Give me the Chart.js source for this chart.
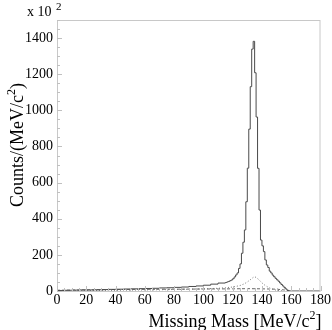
<!DOCTYPE html>
<html><head><meta charset="utf-8">
<script src="https://cdn.jsdelivr.net/npm/chart.js@4/dist/chart.umd.min.js"></script>
<style>html,body{margin:0;padding:0;background:#fff}#wrap{width:332px;height:330px}</style>
</head><body><div id="wrap"><canvas id="c" width="332" height="330"></canvas></div>
<script>
// histogram bin lower edges (MeV/c^2) and counts (x100)
const totalEdges = [0,5,10,15,20,25,30,35,40,45,50,55,60,65,70,75,80,85,90,95,100,105,110,
  115,116,117,118,119,120,121,122,123,124,125,126,127,128,129,130,131,132,133,134,135,136,137,138,139,
  140,141,142,143,144,145,146,147,148,149,150,151,152,153,154,155,156,157,158,159,180];
const totalCounts = [3,3,4,5,6,6,7,8,9,10,11,12,13,14,15,17,18,20,22,25,28,32,38,
  44,47,50,53,57,61,68,78,89,100,125,150,209,270,338,494,680,896,1131,1339,1382,1208,963,679,448,
  282,250,218,172,144,130,110,100,88,79,70,62,54,45,36,28,20,12,5,0,0];
// dotted component
const peakMass = [0,10,20,30,40,50,60,70,80,90,100,110,115,120,125,128,130,132,134,135,136,138,140,142,144,146,148,150,152,155];
const peakCounts = [0,1,2,3,4,5,6,7,8,10,12,15,18,22,30,40,50,62,75,79,75,62,45,32,22,14,8,4,2,0];
// dashed background component
const bgMass = [0,20,40,60,80,100,120,130,140,150,155,158,160];
const bgCounts = [4,6,8,9,10,11,12,13,12,10,6,2,0];
const xTicks = [0,20,40,60,80,100,120,140,160,180];
const yTicks = [0,200,400,600,800,1000,1200,1400];

const toXY = (xs, ys) => xs.map((x,i)=>({x:x, y:ys[i]}));
const FONT = "'Liberation Serif','DejaVu Serif',serif";

const decor = {
  id:'decor',
  afterDraw(chart){
    const {ctx, chartArea:a, scales:{x,y}} = chart;
    ctx.save();
    // frame
    ctx.strokeStyle = '#c8c8c8'; ctx.lineWidth = 1;
    ctx.strokeRect(a.left+0.5, a.top+0.5, a.right-a.left-1, a.bottom-a.top);
    // inward ticks
    ctx.strokeStyle = '#c0c0c0';
    ctx.beginPath();
    for (let v=0; v<=1500; v+=50){
      const py = Math.round(y.getPixelForValue(v))+0.5;
      const len = (v%200===0)?5:3;
      ctx.moveTo(a.left, py); ctx.lineTo(a.left+len, py);
    }
    for (let v=0; v<=180; v+=5){
      const px = Math.round(x.getPixelForValue(v))+0.5;
      const len = (v%20===0)?5:3;
      ctx.moveTo(px, a.bottom); ctx.lineTo(px, a.bottom-len);
    }
    ctx.stroke();
    ctx.fillStyle = '#000';
    // exponent
    ctx.font = '14px '+FONT; ctx.textBaseline='alphabetic'; ctx.textAlign='left';
    ctx.fillText('x 10', 27, 16);
    ctx.font = '11px '+FONT; ctx.fillText('2', 56, 10);
    // x title
    ctx.font = '18px '+FONT; ctx.textAlign='left';
    const p1 = 'Missing Mass [MeV/c', p3 = ']';
    const w1 = ctx.measureText(p1).width;
    ctx.font = '12px '+FONT; const w2 = ctx.measureText('2').width;
    ctx.font = '18px '+FONT; const w3 = ctx.measureText(p3).width;
    let sx = a.right + 1 - (w1+w2+w3);
    const by = 327;
    ctx.fillText(p1, sx, by);
    ctx.font = '12px '+FONT; ctx.fillText('2', sx+w1, by-8);
    ctx.font = '18px '+FONT; ctx.fillText(p3, sx+w1+w2, by);
    // y title (rotated)
    ctx.translate(23, 0);
    ctx.rotate(-Math.PI/2);
    const q1 = 'Counts/(MeV/c', q3 = ')';
    ctx.font = '18px '+FONT; const v1 = ctx.measureText(q1).width;
    ctx.font = '12px '+FONT; const v2 = ctx.measureText('2').width;
    ctx.font = '18px '+FONT; const v3 = ctx.measureText(q3).width;
    const endY = 83;
    const start = -(endY) - (v1+v2+v3);
    ctx.fillText(q1, start, 0);
    ctx.font = '12px '+FONT; ctx.fillText('2', start+v1, -8);
    ctx.font = '18px '+FONT; ctx.fillText(q3, start+v1+v2, 0);
    ctx.restore();
  }
};

new Chart(document.getElementById('c'), {
  type:'line',
  data:{datasets:[
    {data:toXY(totalEdges,totalCounts), stepped:'after', borderColor:'#4a4a4a', borderWidth:1, pointRadius:0, fill:false},
    {data:toXY(peakMass,peakCounts), borderColor:'#777777', borderWidth:1, borderDash:[1,2], pointRadius:0, fill:false, tension:0},
    {data:toXY(bgMass,bgCounts), borderColor:'#666666', borderWidth:1, borderDash:[3,2], pointRadius:0, fill:false, tension:0}
  ]},
  options:{
    responsive:false, animation:false, devicePixelRatio:1,
    layout:{padding:{top:20,right:11,left:0,bottom:0}},
    plugins:{legend:{display:false}, tooltip:{enabled:false}},
    scales:{
      x:{type:'linear', min:0, max:180,
        afterFit(s){s.height=39;},
        afterBuildTicks(s){s.ticks = xTicks.map(v=>({value:v}));},
        grid:{display:false, drawTicks:false}, border:{display:false},
        ticks:{color:'#000', font:{family:FONT,size:14}, padding:1, maxRotation:0, callback:(v)=>String(v)}
      },
      y:{type:'linear', min:0, max:1500,
        afterFit(s){s.width=57;},
        afterBuildTicks(s){s.ticks = yTicks.map(v=>({value:v}));},
        grid:{display:false, drawTicks:false}, border:{display:false},
        ticks:{color:'#000', font:{family:FONT,size:14}, padding:4, callback:(v)=>String(v)}
      }
    }
  },
  plugins:[decor]
});
</script></body></html>
